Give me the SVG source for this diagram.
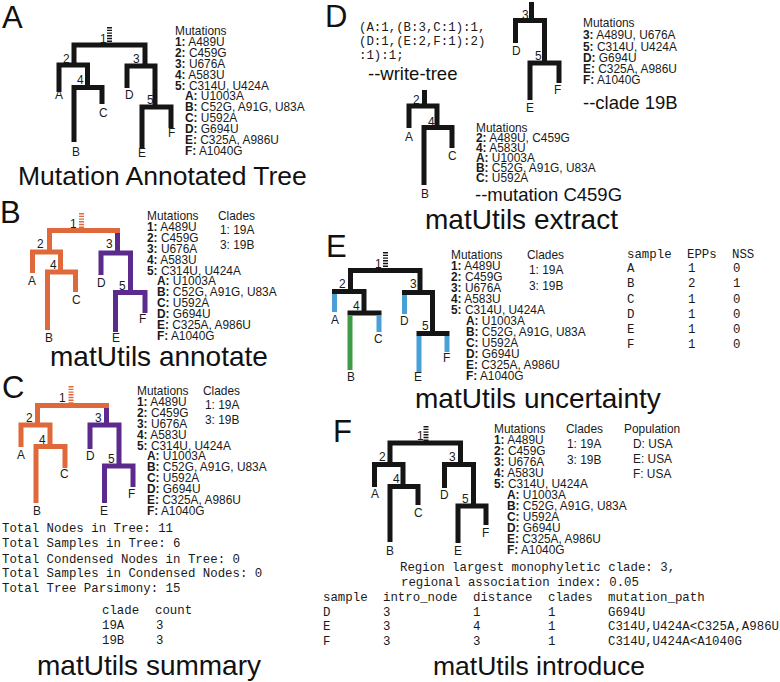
<svg xmlns="http://www.w3.org/2000/svg" width="780" height="682" viewBox="0 0 780 682">
<style>
.t{font-family:"Liberation Sans",Arial,sans-serif;font-size:11.9px;fill:#1a1a1a}
.b{font-weight:bold}
.m{font-family:"Liberation Mono","Courier New",monospace;font-size:12.4px;fill:#1a1a1a}
.ttl{font-family:"Liberation Sans",Arial,sans-serif;font-size:28px;fill:#111}
.let{font-family:"Liberation Sans",Arial,sans-serif;font-size:31px;fill:#111}
.sub{font-family:"Liberation Sans",Arial,sans-serif;font-size:18.5px;fill:#111}
.br{fill:none;stroke:#151515;stroke-width:5;stroke-linejoin:miter}
.or{stroke:#e0693b}
.pu{stroke:#5b2a8c}
.bl{stroke:#4a9fd6}
.gr{stroke:#3f9a48}
.hash{stroke-dasharray:1.4 1.3}
</style>
<rect width="780" height="682" fill="#fff"/>

<!-- Panel A -->
<g id="panelA">
<text class="let" x="2" y="28">A</text>
<g id="treeA" class="connectors">
<path class="br hash" d="M109.5,27 V43"/>
<path class="br" d="M74,65 V45 H145 V66"/>
<path class="br" d="M59,92 V65 H87.5 V87.5"/>
<path class="br" d="M74,142 V87.5 H102 V104"/>
<path class="br" d="M127,88 V66 H155 V107"/>
<path class="br" d="M142,148 V107 H171 V128"/>
</g>
<g id="labelsA" class="t">
<text x="100" y="43">1</text><text x="63" y="63">2</text><text x="55" y="99">A</text>
<text x="77" y="84">4</text><text x="72" y="156">B</text><text x="99" y="117">C</text>
<text x="133" y="63">3</text><text x="125" y="99">D</text><text x="147" y="104">5</text>
<text x="138" y="157">E</text><text x="168" y="137">F</text>
</g>
<g id="mutA" class="t">
<text x="175" y="35">Mutations</text>
<text x="175" y="45.9"><tspan class="b">1:</tspan> A489U</text>
<text x="175" y="56.8"><tspan class="b">2:</tspan> C459G</text>
<text x="175" y="67.7"><tspan class="b">3:</tspan> U676A</text>
<text x="175" y="78.6"><tspan class="b">4:</tspan> A583U</text>
<text x="175" y="89.5"><tspan class="b">5:</tspan> C314U, U424A</text>
<text x="185" y="100.4"><tspan class="b">A:</tspan> U1003A</text>
<text x="185" y="111.3"><tspan class="b">B:</tspan> C52G, A91G, U83A</text>
<text x="185" y="122.2"><tspan class="b">C:</tspan> U592A</text>
<text x="185" y="133.1"><tspan class="b">D:</tspan> G694U</text>
<text x="185" y="144"><tspan class="b">E:</tspan> C325A, A986U</text>
<text x="185" y="154.9"><tspan class="b">F:</tspan> A1040G</text>
</g>
<text class="ttl" x="18" y="185" style="font-size:26.5px">Mutation Annotated Tree</text>
</g>

<!-- Panel B -->
<g id="panelB">
<text class="let" x="0" y="223">B</text>
<g id="treeB" class="connectors">
<path class="br or hash" d="M81.5,213 V229"/>
<path class="br or" d="M49.5,252 V230.5 H120"/>
<path class="br or" d="M32.5,273 V252 H60.5 V272"/>
<path class="br or" d="M47.5,330 V272 H75.5 V292"/>
<path class="br pu" d="M117.5,233 V253"/>
<path class="br pu" d="M101,275 V253 H130.5 V292.5"/>
<path class="br pu" d="M115.5,332 V292.5 H145 V313"/>
</g>
<g id="labelsB" class="t">
<text x="70" y="228">1</text><text x="37" y="248">2</text><text x="28" y="285">A</text>
<text x="50" y="269">4</text><text x="45" y="342">B</text><text x="72" y="304">C</text>
<text x="106" y="248">3</text><text x="97" y="287">D</text><text x="119" y="290">5</text>
<text x="112" y="342">E</text><text x="139" y="323">F</text>
</g>
<g id="mutB" class="t">
<text x="147" y="220">Mutations</text>
<text x="147" y="230.9"><tspan class="b">1:</tspan> A489U</text>
<text x="147" y="241.8"><tspan class="b">2:</tspan> C459G</text>
<text x="147" y="252.7"><tspan class="b">3:</tspan> U676A</text>
<text x="147" y="263.6"><tspan class="b">4:</tspan> A583U</text>
<text x="147" y="274.5"><tspan class="b">5:</tspan> C314U, U424A</text>
<text x="157" y="285.4"><tspan class="b">A:</tspan> U1003A</text>
<text x="157" y="296.3"><tspan class="b">B:</tspan> C52G, A91G, U83A</text>
<text x="157" y="307.2"><tspan class="b">C:</tspan> U592A</text>
<text x="157" y="318.1"><tspan class="b">D:</tspan> G694U</text>
<text x="157" y="329"><tspan class="b">E:</tspan> C325A, A986U</text>
<text x="157" y="339.9"><tspan class="b">F:</tspan> A1040G</text>
<text x="218" y="220">Clades</text>
<text x="220" y="234">1: 19A</text>
<text x="220" y="249">3: 19B</text>
</g>
<text class="ttl" x="50" y="366">matUtils annotate</text>
</g>

<!-- Panel C -->
<g id="panelC">
<text class="let" x="2" y="398">C</text>
<g id="treeC" class="connectors">
<path class="br or hash" d="M71,386 V404"/>
<path class="br or" d="M37.5,425 V405.5 H109"/>
<path class="br or" d="M21,447 V425 H50 V446.5"/>
<path class="br or" d="M36,503 V446.5 H65 V468"/>
<path class="br pu" d="M106.5,408 V425"/>
<path class="br pu" d="M90,449 V425 H119 V466"/>
<path class="br pu" d="M104.5,503 V466 H133 V487"/>
</g>
<g id="labelsC" class="t">
<text x="59" y="402">1</text><text x="26" y="422">2</text><text x="17" y="459">A</text>
<text x="39" y="444">4</text><text x="33" y="515">B</text><text x="60" y="478">C</text>
<text x="95" y="422">3</text><text x="86" y="460">D</text><text x="108" y="463">5</text>
<text x="100" y="515">E</text><text x="128" y="498">F</text>
</g>
<g id="mutC" class="t">
<text x="137" y="395">Mutations</text>
<text x="137" y="405.9"><tspan class="b">1:</tspan> A489U</text>
<text x="137" y="416.8"><tspan class="b">2:</tspan> C459G</text>
<text x="137" y="427.7"><tspan class="b">3:</tspan> U676A</text>
<text x="137" y="438.6"><tspan class="b">4:</tspan> A583U</text>
<text x="137" y="449.5"><tspan class="b">5:</tspan> C314U, U424A</text>
<text x="147" y="460.4"><tspan class="b">A:</tspan> U1003A</text>
<text x="147" y="471.3"><tspan class="b">B:</tspan> C52G, A91G, U83A</text>
<text x="147" y="482.2"><tspan class="b">C:</tspan> U592A</text>
<text x="147" y="493.1"><tspan class="b">D:</tspan> G694U</text>
<text x="147" y="504"><tspan class="b">E:</tspan> C325A, A986U</text>
<text x="147" y="514.9"><tspan class="b">F:</tspan> A1040G</text>
<text x="203" y="395">Clades</text>
<text x="205" y="409">1: 19A</text>
<text x="205" y="424">3: 19B</text>
</g>
<g id="summaryC" class="m">
<text x="2" y="532">Total Nodes in Tree: 11</text>
<text x="2" y="547">Total Samples in Tree: 6</text>
<text x="2" y="562.5">Total Condensed Nodes in Tree: 0</text>
<text x="2" y="577">Total Samples in Condensed Nodes: 0</text>
<text x="2" y="592">Total Tree Parsimony: 15</text>
<text x="102" y="614">clade</text><text x="155" y="614">count</text>
<text x="102" y="629">19A</text><text x="156" y="629">3</text>
<text x="102" y="644">19B</text><text x="156" y="644">3</text>
</g>
<text class="ttl" x="37" y="675">matUtils summary</text>
</g>

<!-- Panel D -->
<g id="panelD">
<text class="let" x="325" y="27">D</text>
<g id="newickD" class="m">
<text x="359" y="31">(A:1,(B:3,C:1):1,</text>
<text x="359" y="45">(D:1,(E:2,F:1):2)</text>
<text x="359" y="59">:1):1;</text>
</g>
<text class="sub" x="368" y="80">--write-tree</text>
<g id="treeD1" class="connectors">
<path class="br" d="M424.5,90 V106"/>
<path class="br" d="M409,128 V106 H437 V127.5"/>
<path class="br" d="M424,185 V127.5 H452 V148"/>
</g>
<g id="labelsD1" class="t">
<text x="413" y="104">2</text><text x="405" y="141">A</text><text x="428" y="126">4</text>
<text x="421" y="198">B</text><text x="448" y="160">C</text>
</g>
<g id="mutD1" class="t">
<text x="476" y="132">Mutations</text>
<text x="476" y="142"><tspan class="b">2:</tspan> A489U, C459G</text>
<text x="476" y="152"><tspan class="b">4:</tspan> A583U</text>
<text x="476" y="162"><tspan class="b">A:</tspan> U1003A</text>
<text x="476" y="172"><tspan class="b">B:</tspan> C52G, A91G, U83A</text>
<text x="476" y="182"><tspan class="b">C:</tspan> U592A</text>
</g>
<text class="sub" x="475" y="201">--mutation C459G</text>
<g id="treeD2" class="connectors">
<path class="br" d="M531.5,2 V20.5"/>
<path class="br" d="M515.5,43 V20.5 H544.5 V63"/>
<path class="br" d="M530,100 V63 H559 V83"/>
</g>
<g id="labelsD2" class="t">
<text x="522" y="19">3</text><text x="512" y="55">D</text><text x="535" y="60">5</text>
<text x="526" y="112">E</text><text x="554" y="94">F</text>
</g>
<g id="mutD2" class="t">
<text x="583" y="27">Mutations</text>
<text x="583" y="39"><tspan class="b">3:</tspan> A489U, U676A</text>
<text x="583" y="51"><tspan class="b">5:</tspan> C314U, U424A</text>
<text x="583" y="62"><tspan class="b">D:</tspan> G694U</text>
<text x="583" y="73"><tspan class="b">E:</tspan> C325A, A986U</text>
<text x="583" y="84"><tspan class="b">F:</tspan> A1040G</text>
</g>
<text class="sub" x="583" y="109">--clade 19B</text>
<text class="ttl" x="425" y="229">matUtils extract</text>
</g>

<!-- Panel E -->
<g id="panelE">
<text class="let" x="326" y="257">E</text>
<g id="treeE" class="connectors">
<path class="br hash" d="M385.5,252 V269"/>
<path class="br" d="M350.5,291.5 V270.5 H420 V292.5"/>
<path class="br" d="M334.5,294 V291.5 H364 V313"/>
<path class="br bl" d="M334.5,294 V312"/>
<path class="br" d="M350,315.5 V313 H379 V315.5"/>
<path class="br gr" d="M350,315.5 V370"/>
<path class="br bl" d="M379,315.5 V332"/>
<path class="br" d="M404.5,295 V292.5 H432.5 V333.5"/>
<path class="br bl" d="M404.5,295 V314"/>
<path class="br" d="M419,336 V333.5 H447 V336"/>
<path class="br bl" d="M419,336 V372"/>
<path class="br bl" d="M447,336 V352"/>
</g>
<g id="labelsE" class="t">
<text x="375" y="268">1</text><text x="339" y="288">2</text><text x="331" y="324">A</text>
<text x="353" y="310">4</text><text x="347" y="381">B</text><text x="374" y="343">C</text>
<text x="410" y="288">3</text><text x="400" y="325">D</text><text x="422" y="330">5</text>
<text x="414" y="381">E</text><text x="443" y="362">F</text>
</g>
<g id="mutE" class="t">
<text x="451" y="259">Mutations</text>
<text x="451" y="270"><tspan class="b">1:</tspan> A489U</text>
<text x="451" y="281"><tspan class="b">2:</tspan> C459G</text>
<text x="451" y="292"><tspan class="b">3:</tspan> U676A</text>
<text x="451" y="303"><tspan class="b">4:</tspan> A583U</text>
<text x="451" y="314"><tspan class="b">5:</tspan> C314U, U424A</text>
<text x="466" y="325"><tspan class="b">A:</tspan> U1003A</text>
<text x="466" y="336"><tspan class="b">B:</tspan> C52G, A91G, U83A</text>
<text x="466" y="347"><tspan class="b">C:</tspan> U592A</text>
<text x="466" y="358"><tspan class="b">D:</tspan> G694U</text>
<text x="466" y="369"><tspan class="b">E:</tspan> C325A, A986U</text>
<text x="466" y="380"><tspan class="b">F:</tspan> A1040G</text>
<text x="527" y="259">Clades</text>
<text x="529" y="274">1: 19A</text>
<text x="529" y="290">3: 19B</text>
</g>
<g id="tableE" class="m">
<text x="627" y="258">sample</text><text x="687" y="258">EPPs</text><text x="732" y="258">NSS</text>
<text x="627" y="272">A</text><text x="688" y="272">1</text><text x="733" y="272">0</text>
<text x="627" y="287">B</text><text x="688" y="287">2</text><text x="733" y="287">1</text>
<text x="627" y="303">C</text><text x="688" y="303">1</text><text x="733" y="303">0</text>
<text x="627" y="318">D</text><text x="688" y="318">1</text><text x="733" y="318">0</text>
<text x="627" y="333">E</text><text x="688" y="333">1</text><text x="733" y="333">0</text>
<text x="627" y="348">F</text><text x="688" y="348">1</text><text x="733" y="348">0</text>
</g>
<text class="ttl" x="415" y="408">matUtils uncertainty</text>
</g>

<!-- Panel F -->
<g id="panelF">
<text class="let" x="333" y="442">F</text>
<g id="treeF" class="connectors">
<path class="br hash" d="M426,426 V441"/>
<path class="br" d="M390,464.5 V443 H460.5 V464.5"/>
<path class="br" d="M374.5,487 V464.5 H403 V486.5"/>
<path class="br" d="M390,542 V486.5 H418 V505"/>
<path class="br" d="M444.5,488 V464.5 H473.5 V506"/>
<path class="br" d="M458,543 V506 H486 V525"/>
</g>
<g id="labelsF" class="t">
<text x="417" y="440">1</text><text x="379" y="461">2</text><text x="371" y="498">A</text>
<text x="393" y="483">4</text><text x="386" y="555">B</text><text x="414" y="517">C</text>
<text x="449" y="461">3</text><text x="440" y="499">D</text><text x="462" y="503">5</text>
<text x="454" y="555">E</text><text x="482" y="537">F</text>
</g>
<g id="mutF" class="t">
<text x="494" y="433">Mutations</text>
<text x="494" y="444"><tspan class="b">1:</tspan> A489U</text>
<text x="494" y="455"><tspan class="b">2:</tspan> C459G</text>
<text x="494" y="466"><tspan class="b">3:</tspan> U676A</text>
<text x="494" y="477"><tspan class="b">4:</tspan> A583U</text>
<text x="494" y="488"><tspan class="b">5:</tspan> C314U, U424A</text>
<text x="507" y="499"><tspan class="b">A:</tspan> U1003A</text>
<text x="507" y="510"><tspan class="b">B:</tspan> C52G, A91G, U83A</text>
<text x="507" y="521"><tspan class="b">C:</tspan> U592A</text>
<text x="507" y="532"><tspan class="b">D:</tspan> G694U</text>
<text x="507" y="543"><tspan class="b">E:</tspan> C325A, A986U</text>
<text x="507" y="554"><tspan class="b">F:</tspan> A1040G</text>
<text x="566" y="433">Clades</text>
<text x="567" y="448">1: 19A</text>
<text x="567" y="463.5">3: 19B</text>
<text x="624" y="433">Population</text>
<text x="633" y="448">D: USA</text>
<text x="633" y="462.5">E: USA</text>
<text x="633" y="477.5">F: USA</text>
</g>
<g id="introF" class="m">
<text x="400" y="571">Region largest monophyletic clade: 3,</text>
<text x="401" y="586">regional association index: 0.05</text>
<text x="323" y="601">sample</text><text x="383" y="601">intro_node</text><text x="473" y="601">distance</text><text x="548" y="601">clades</text><text x="608" y="601">mutation_path</text>
<text x="323" y="616">D</text><text x="383" y="616">3</text><text x="473" y="616">1</text><text x="548" y="616">1</text><text x="608" y="616">G694U</text>
<text x="323" y="630">E</text><text x="383" y="630">3</text><text x="473" y="630">4</text><text x="548" y="630">1</text><text x="608" y="630">C314U,U424A&lt;C325A,A986U</text>
<text x="323" y="645">F</text><text x="383" y="645">3</text><text x="473" y="645">3</text><text x="548" y="645">1</text><text x="608" y="645">C314U,U424A&lt;A1040G</text>
</g>
<text class="ttl" x="433" y="675" style="font-size:26.5px">matUtils introduce</text>
</g>
</svg>
